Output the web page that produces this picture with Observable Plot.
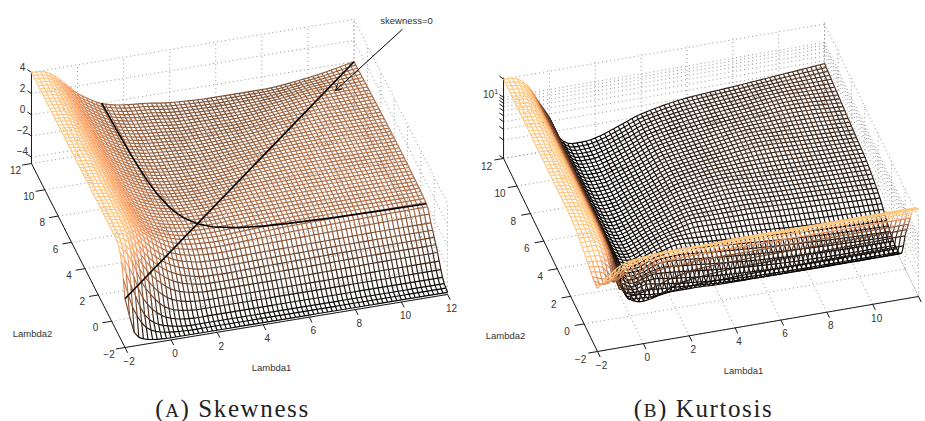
<!DOCTYPE html>
<html><head><meta charset="utf-8">
<style>html,body{margin:0;padding:0;background:#fff}svg{display:block}</style>
<script src="https://cdn.jsdelivr.net/npm/d3@7"></script>
<script src="https://cdn.jsdelivr.net/npm/@observablehq/plot@0.6"></script>
</head><body><div id="chart"></div>
<script>
const lambdaKnots=[-2,-1.5,-1,-.5,0,.5,1,1.5,2,3,4,6,8,10,12];
const axisTicks=[-2,0,2,4,6,8,10,12];
const skewTicks=[-4,-2,0,2,4];
const kurtTicks=[1,2,3,4,5,6,7,8,9,10,20];
// skewness: one row per Lambda2 knot (ascending), one column per Lambda1 knot
const skewRows=[
[0,-3.7,-4.2,-4.35,-4.4,-4.4,-4.4,-4.4,-4.4,-4.4,-4.4,-4.4,-4.4,-4.4,-4.4],
[2.8,0,-2.5,-3.5,-3.9,-4.1,-4.2,-4.2,-4.2,-4.2,-4.2,-4.2,-4.2,-4.2,-4.2],
[3.8,2.5,0,-1.6,-2.7,-3.2,-3.4,-3.5,-3.5,-3.5,-3.5,-3.5,-3.5,-3.5,-3.5],
[4,3.5,1.6,0,-1.1,-1.9,-2.3,-2.5,-2.6,-2.6,-2.6,-2.6,-2.55,-2.5,-2.5],
[4,3.8,2.7,1.1,0,-.8,-1.3,-1.6,-1.8,-1.85,-1.8,-1.75,-1.7,-1.7,-1.7],
[4,3.9,3.1,1.9,.8,0,-.55,-.85,-1.05,-1.15,-1.1,-1.05,-1,-.95,-.95],
[4,3.9,3.3,2.2,1.3,.55,0,-.3,-.45,-.55,-.45,-.3,-.2,-.1,-.05],
[4,3.9,3.3,2.3,1.35,.75,.3,0,-.15,-.25,-.15,.05,.1,.1,.1],
[4,3.9,3.3,2.3,1.35,.75,.35,.12,0,-.05,.02,.1,.15,.15,.15],
[4,3.9,3.3,2.3,1.35,.75,.4,.2,.02,0,.1,.2,.25,.25,.2],
[4,3.9,3.3,2.3,1.35,.75,.35,.08,-.1,-.15,0,.2,.3,.3,.25],
[4,3.9,3.3,2.3,1.35,.7,.2,-.1,-.3,-.45,-.4,0,.25,.3,.25],
[4,3.9,3.3,2.3,1.3,.65,.1,-.2,-.4,-.55,-.65,-.45,0,.2,.2],
[4,3.9,3.3,2.3,1.3,.6,.05,-.25,-.45,-.65,-.85,-.85,-.5,0,.1],
[4,3.9,3.3,2.3,1.3,.6,0,-.3,-.5,-.7,-1,-1.2,-1.2,-.8,0]];
// kurtosis: upper triangle (row i starts at column i), mirrored below the diagonal
const kurtUpper=[
[10.8,16,22,25,26,27,27,27,27,27,27,27,27,27,27],
[9,12,16,19,20,21,21,21,21,22,22,22,22,22],
[7,9,11,12.5,13,13.5,14,14,14,14,14,14,14],
[3.6,4,5.5,6,6.5,6.5,7,7,7,7,7,7],
[1.87,1.6,1.7,2,2.4,2.8,3,3.2,3.3,3.4,3.5],
[1.6,1.5,1.45,1.45,1.45,1.4,1.4,1.4,1.4,1.4],
[1.7,1.6,1.5,1.35,1.25,1.15,1.12,1.12,1.12],
[1.8,1.75,1.6,1.45,1.25,1.15,1.12,1.12],
[2,1.9,1.75,1.5,1.35,1.25,1.2],
[2.4,2.3,2.1,1.85,1.7,1.6],
[2.8,2.8,2.6,2.4,2.2],
[3.4,3.3,3.15,3],
[3.9,3.7,3.4],
[4.2,3.9],
[4.5]];
// the two left-most kurtosis columns (Lambda1=-2, -1.5) read lower than the mirrored front ridge
const kurtColumnM2=[10.8,11,12,13.5,15,16.5,18,19,20,20,20,20,20,20,20];
const kurtColumnM15=[16,9,11,13,15,16.5,17,18,18.5,19,19,19,19,19,19];
// black z=0 lines in the skewness panel
const zeroCurveL1=[1.05,1.1,1.17,1.3,1.42,1.62,1.78,2,2.43,3,4,5,6,8,10,12];
const zeroCurveL2=[12,10,8,6,5,4,3.5,3,2.43,2.02,1.68,1.51,1.41,1.29,1.227,1.185];
const zeroDiagL=[-2,12];

const meshL1=d3.range(0,71).map(i=>-2+i*14/70);
const meshL2=d3.range(0,57).map(i=>-2+i*14/56);

function slopes(xs,ys){const s=[];for(let i=0;i<xs.length-1;i++)s.push((ys[i+1]-ys[i])/(xs[i+1]-xs[i]));
  const m=[s[0]];for(let i=1;i<s.length;i++)m.push(s[i-1]*s[i]<=0?0:2*s[i-1]*s[i]/(s[i-1]+s[i]));m.push(s[s.length-1]);return m;}
function smooth(xs,ys,x){let i=Math.min(xs.length-2,Math.max(0,d3.bisectRight(xs,x)-1));
  const m=slopes(xs,ys),h=xs[i+1]-xs[i],t=(x-xs[i])/h,t2=t*t,t3=t2*t;
  return (2*t3-3*t2+1)*ys[i]+(t3-2*t2+t)*h*m[i]+(-2*t3+3*t2)*ys[i+1]+(t3-t2)*h*m[i+1];}
function gridFrom(rows){return meshL1.map(l1=>{const col=rows.map(r=>smooth(lambdaKnots,r,l1));
  return meshL2.map(l2=>smooth(lambdaKnots,col,l2));});} // [l1 index][l2 index]
const n=lambdaKnots.length;
const kurtLogRows=d3.range(n).map(i=>d3.range(n).map(j=>{
  if(j===0)return Math.log10(kurtColumnM2[i]);
  if(j===1&&i>=1)return Math.log10(kurtColumnM15[i]);
  return Math.log10(i<=j?kurtUpper[i][j-i]:kurtUpper[j][i-j]);}));

const panelA={ox:124.5,oy:347,ax:23.04,ay:-3.79,bx:-6.68,by:-13.14,h:z=>(z+4.6)*10.6,zBottom:-4.6,zTop:4};
const panelB={ox:597,oy:351,ax:22.93,ay:-3.93,bx:-6.71,by:-13.79,h:z=>Math.log10(z)*61,zBottom:1,zTop:21};
const px=(p,l1,l2)=>p.ox+(l1+2)*p.ax+(l2+2)*p.bx;
const py=(p,l1,l2,z)=>p.oy+(l1+2)*p.ay+(l2+2)*p.by-p.h(z);

function meshSegs(p,grid,toZ,toT){
  const segs=[];const N1=meshL1.length,N2=meshL2.length;
  for(let j=N2-1;j>=0;j--)for(let i=N1-1;i>=0;i--){
    const add=(i2,j2)=>{const z1=toZ(grid[i][j]),z2=toZ(grid[i2][j2]);
      segs.push({x1:px(p,meshL1[i],meshL2[j]),y1:py(p,meshL1[i],meshL2[j],z1),
        x2:px(p,meshL1[i2],meshL2[j2]),y2:py(p,meshL1[i2],meshL2[j2],z2),
        t:(toT(z1)+toT(z2))/2});};
    if(i<N1-1)add(i+1,j);
    if(j<N2-1)add(i,j+1);
  }
  return segs;
}
function gridSegs(p,zs){
  const s=[];const L=(a,b,c,d,e,f)=>s.push({x1:px(p,a,b),y1:py(p,a,b,c),x2:px(p,d,e),y2:py(p,d,e,f)});
  for(const t of axisTicks){
    L(t,12,p.zBottom,t,12,p.zTop);L(12,t,p.zBottom,12,t,p.zTop);
    L(t,-2,p.zBottom,t,12,p.zBottom);L(-2,t,p.zBottom,12,t,p.zBottom);
  }
  for(const z of zs){L(-2,12,z,12,12,z);L(12,12,z,12,-2,z);}
  return s;
}
function axisSegs(p,zs){
  const s=[];const L=(a,b,c,d,e,f)=>s.push({x1:px(p,a,b),y1:py(p,a,b,c),x2:px(p,d,e),y2:py(p,d,e,f)});
  L(-2,-2,p.zBottom,12,-2,p.zBottom);L(-2,-2,p.zBottom,-2,12,p.zBottom);L(-2,12,p.zBottom,-2,12,p.zTop);
  for(const t of axisTicks){L(t,-2,p.zBottom,t,-2.4,p.zBottom);L(-2,t,p.zBottom,-2.4,t,p.zBottom);}
  for(const z of zs){L(-2,12,z,-2.11,12.24,z);}
  return s;
}
const fmt=v=>String(v).replace("-","\u2212");
function tickTexts(p,ticks1,dx1,dy1,dx2,dy2){
  return [...ticks1.map(t=>({x:px(p,t,-2)+dx1,y:py(p,t,-2,p.zBottom)+dy1,s:fmt(t)})),
          ...axisTicks.map(t=>({x:px(p,-2,t)+dx2,y:py(p,-2,t,p.zBottom)+dy2,s:fmt(t)}))];
}

const skewGrid=gridFrom(skewRows), kurtGrid=gridFrom(kurtLogRows);
const segsA=meshSegs(panelA,skewGrid,z=>z,z=>(z+4.4)/8.4);
const segsB=meshSegs(panelB,kurtGrid,z=>Math.pow(10,z),z=>(z-1.1)/13);

const zeroLines=[
  ...zeroCurveL1.slice(1).map((_,i)=>({x1:px(panelA,zeroCurveL1[i],zeroCurveL2[i]),y1:py(panelA,zeroCurveL1[i],zeroCurveL2[i],0),x2:px(panelA,zeroCurveL1[i+1],zeroCurveL2[i+1]),y2:py(panelA,zeroCurveL1[i+1],zeroCurveL2[i+1],0)})),
  {x1:px(panelA,zeroDiagL[0],zeroDiagL[0]),y1:py(panelA,zeroDiagL[0],zeroDiagL[0],0),x2:px(panelA,zeroDiagL[1],zeroDiagL[1]),y2:py(panelA,zeroDiagL[1],zeroDiagL[1],0)}];

const copper=t=>{t=Math.max(0,Math.min(1,t));return `rgb(${Math.round(255*Math.min(1,1.25*t))},${Math.round(255*.7812*t)},${Math.round(255*.4975*t)})`;};
const sans="Liberation Sans";
const xy={x1:"x1",y1:"y1",x2:"x2",y2:"y2"};
const gridStyle={...xy,stroke:"#777",strokeWidth:.8,strokeDasharray:"1,3"};
const axisStyle={...xy,stroke:"#1a1a1a",strokeWidth:1};
const meshStyle={...xy,stroke:d=>d.t,strokeWidth:1.15};

const labels=[
 ...tickTexts(panelA,axisTicks,4,14,-16,7),
 ...tickTexts(panelB,axisTicks.slice(0,-1),4,14,-17,8),
 ...skewTicks.map(z=>({x:px(panelA,-2,12)-9,y:py(panelA,-2,12,z)-5,s:fmt(z)})),
 {x:px(panelB,-2,12)-13,y:py(panelB,-2,12,10)-3,s:"101"},
];
const axisNames=[{x:32,y:333,s:"Lambda2"},{x:271,y:367,s:"Lambda1"},{x:505,y:335,s:"Lambda2"},{x:743,y:370,s:"Lambda1"},{x:406,y:20,s:"skewness=0"}];
const captions=[{x:232,y:408,s:"(A) Skewness"},{x:703,y:408,s:"(B) Kurtosis"}];
const arrowData=[{x1:401.7,y1:29,x2:335,y2:90}];

const chart=Plot.plot({
  width:925,height:421,margin:0,
  x:{domain:[0,925],range:[0,925],axis:null},
  y:{domain:[0,421],range:[0,421],axis:null},
  color:{type:"linear",domain:[0,1],interpolate:copper,legend:false},
  style:{background:"#fff",fontFamily:sans},
  marks:[
    Plot.link(gridSegs(panelA,skewTicks),gridStyle),
    Plot.link(gridSegs(panelB,kurtTicks),gridStyle),
    Plot.link(axisSegs(panelA,skewTicks),axisStyle),
    Plot.link(axisSegs(panelB,kurtTicks),axisStyle),
    Plot.link(segsA,meshStyle),
    Plot.link(segsB,meshStyle),
    Plot.link(zeroLines,{...xy,stroke:"#000",strokeWidth:1.6}),
    Plot.arrow(arrowData,{...xy,stroke:"#000",strokeWidth:1,headLength:10,bend:0}),
    Plot.text(labels,{x:"x",y:"y",text:"s",fontSize:10,fill:"#333",fontFamily:sans}),
    Plot.text(axisNames,{x:"x",y:"y",text:"s",fontSize:9.5,fill:"#333",fontFamily:sans}),
    Plot.text(captions,{x:"x",y:"y",text:"s",fontSize:25,fill:"#222",fontFamily:"Liberation Serif"})
  ]
});
d3.select(chart).selectAll("text").each(function(){
  const t=this.textContent, sel=d3.select(this);
  const m=t.match(/^\((A|B)\) (.*)$/);
  if(m){sel.text("").style("letter-spacing","1.6px");
    sel.append("tspan").text("(");
    sel.append("tspan").attr("font-size",19).text(m[1]);
    sel.append("tspan").text(") "+m[2]);}
  if(t==="101"){sel.text("");sel.append("tspan").text("10");sel.append("tspan").attr("font-size",7).attr("dy",-4).text("1");}
});
document.getElementById("chart").appendChild(chart);
</script></body></html>
